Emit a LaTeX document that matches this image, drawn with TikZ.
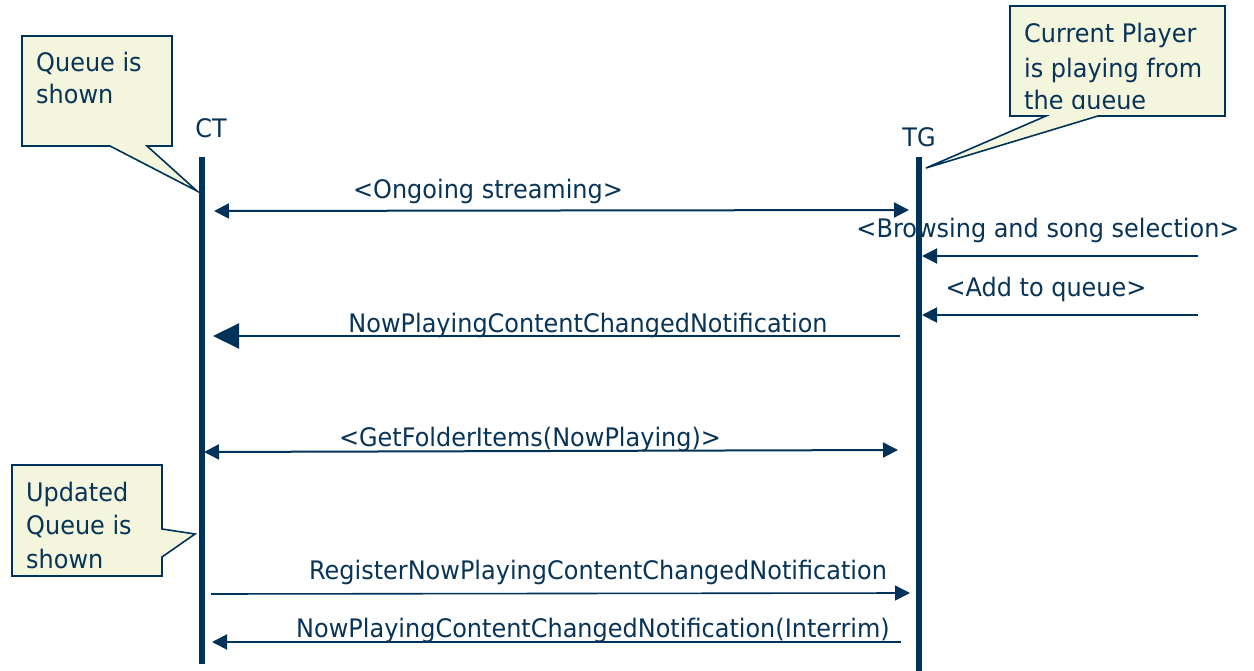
\documentclass[tikz,border=0pt]{standalone}
\usepackage{fontspec}
\setmainfont{DejaVu Sans}[FakeStretch=0.94]
\usetikzlibrary{arrows.meta}
\definecolor{navy}{RGB}{0,51,90}
\definecolor{txt}{RGB}{8,52,88}
\definecolor{notefill}{RGB}{243,246,220}
\begin{document}
\begin{tikzpicture}[x=1pt,y=-1pt,
  every node/.style={font=\fontsize{25.5}{31}\selectfont, text=txt, inner sep=0pt},
  lifeline/.style={draw=navy, line width=5.5pt},
  msg/.style={draw=navy, line width=2pt},
  tip/.style={-{Triangle[length=15pt,width=15pt]}},
  bigtip/.style={-{Triangle[length=26pt,width=25pt]}},
  bothtip/.style={{Triangle[length=15pt,width=15pt]}-{Triangle[length=15pt,width=15pt]}},
  lbl/.style={anchor=base},
  notetext/.style={anchor=base west},
  note/.style={draw=navy, fill=notefill, line width=1.6pt, line join=miter}]
\useasboundingbox (0,0) rectangle (1254,671);

% lifelines
\coordinate (ct top) at (202,157);
\coordinate (ct bot) at (202,664);
\coordinate (tg top) at (919,157);
\coordinate (tg bot) at (919,671);
\draw[lifeline] (ct top) -- (ct bot);
\draw[lifeline] (tg top) -- (tg bot);
\node[lbl] (ct) at (211,138) {CT};
\node[lbl] (tg) at (919,147) {TG};

% callout 1
\draw[note] (22,36) -- (172,36) -- (172,146) -- (147,146) -- (197,191) -- (110,146) -- (22,146) -- cycle;
\node[notetext] (n1a) at (36,72) {Queue is};
\node[notetext] (n1b) at (36,104) {shown};

% callout 2
\draw[note] (1010,6) -- (1225,6) -- (1225,116) -- (1098,116) -- (926,168) -- (1046,116) -- (1010,116) -- cycle;
\begin{scope}
\clip (1012,8) rectangle (1223,109);
\node[notetext] (n2a) at (1024,43) {Current Player};
\node[notetext] (n2b) at (1024,78) {is playing from};
\node[notetext] (n2c) at (1024,110) {the queue};
\end{scope}

% callout 3
\draw[note] (12,465) -- (162,465) -- (162,529) -- (195,534) -- (162,557) -- (162,576) -- (12,576) -- cycle;
\node[notetext] (n3a) at (26,501) {Updated};
\node[notetext] (n3b) at (26,534) {Queue is};
\node[notetext] (n3c) at (26,568) {shown};

% message end points
\coordinate (m1l) at (214,211);
\coordinate (m1r) at (909,210);
\coordinate (m2r) at (1198,256);
\coordinate (m2l) at (922,256);
\coordinate (m3r) at (1198,315);
\coordinate (m3l) at (922,315);
\coordinate (m4r) at (900,336);
\coordinate (m4l) at (213,336);
\coordinate (m5l) at (204,452);
\coordinate (m5r) at (898,450);
\coordinate (m6l) at (211,594);
\coordinate (m6r) at (910,593);
\coordinate (m7r) at (901,642);
\coordinate (m7l) at (212,642);

% messages
\draw[msg, bothtip] (m1l) -- (m1r);
\node[lbl] (l1) at (488,199) {<Ongoing streaming>};
\draw[msg, tip] (m2r) -- (m2l);
\node[lbl] (l2) at (1048,238) {<Browsing and song selection>};
\draw[msg, tip] (m3r) -- (m3l);
\node[lbl] (l3) at (1046,297) {<Add to queue>};
\draw[msg, bigtip] (m4r) -- (m4l);
\node[lbl] (l4) at (588,333) {NowPlayingContentChangedNotification};
\draw[msg, bothtip] (m5l) -- (m5r);
\node[lbl] (l5) at (530,446) {<GetFolderItems(NowPlaying)>};
\draw[msg, tip, line width=1.6pt] (m6l) -- (m6r);
\node[lbl] (l6) at (598,579) {RegisterNowPlayingContentChangedNotification};
\draw[msg, tip] (m7r) -- (m7l);
\node[lbl] (l7) at (593,637) {NowPlayingContentChangedNotification(Interrim)};
\end{tikzpicture}
\end{document}
